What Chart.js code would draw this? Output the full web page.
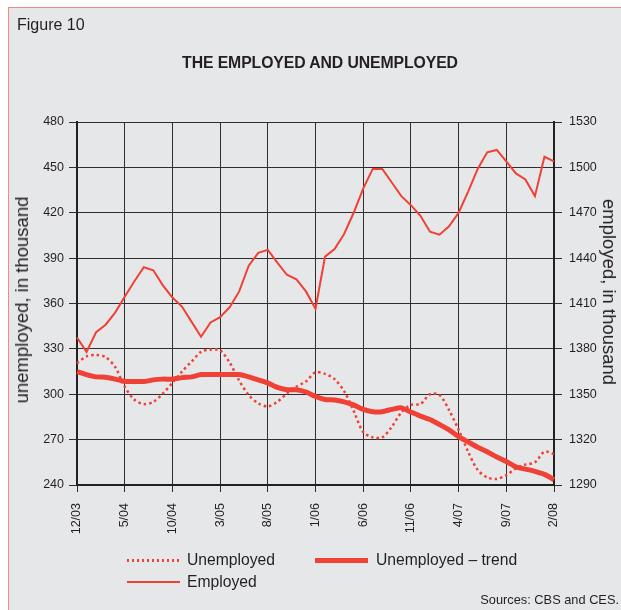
<!DOCTYPE html>
<html>
<head>
<meta charset="utf-8">
<script src="https://cdn.jsdelivr.net/npm/chart.js@4.4.1/dist/chart.umd.min.js"></script>
<style>
  html, body { margin: 0; padding: 0; background: #fff; }
  body { width: 621px; height: 610px; position: relative; overflow: hidden; font-family: "Liberation Sans", Arial, sans-serif; color: #231f20; }
  #frame { position: absolute; left: 8px; top: 7px; width: 640px; height: 640px; background: #e6e7e9; border: 1px solid #f08a84; }
  #chart { position: absolute; left: 0; top: 0; }
  .txt { position: absolute; white-space: nowrap; }
  #fig { left: 17px; top: 16px; font-size: 16px; }
  #title { left: 0; width: 640px; text-align: center; top: 54px; font-size: 15.8px; font-weight: bold; letter-spacing: -0.1px; }
  .ytitle { position: absolute; font-size: 18.5px; line-height: 20px; white-space: nowrap; }
  #yl { left: 22px; top: 300px; transform: translate(-50%, -50%) rotate(-90deg); }
  #yr { left: 609px; top: 292px; transform: translate(-50%, -50%) rotate(90deg); }
  .leg { position: absolute; font-size: 15.7px; line-height: 18px; }
  .line { position: absolute; }
  #src { right: 2px; top: 592px; font-size: 12.8px; }
</style>
</head>
<body>
<div id="frame"></div>
<canvas id="chart" width="621" height="610"></canvas>
<div class="txt" id="fig">Figure 10</div>
<div class="txt" id="title">THE EMPLOYED AND UNEMPLOYED</div>
<div class="ytitle" id="yl">unemployed, in thousand</div>
<div class="ytitle" id="yr">employed, in thousand</div>

<div class="line" style="left:127px; top:559px; width:52px; height:2.5px; background:repeating-linear-gradient(to right,#ef4136 0 2.5px,transparent 2.5px 5px);"></div>
<div class="leg txt" style="left:187px; top:551px;">Unemployed</div>
<div class="line" style="left:315px; top:557.5px; width:53px; height:5px; background:#ef4136;"></div>
<div class="leg txt" style="left:376px; top:551px;">Unemployed – trend</div>
<div class="line" style="left:127px; top:581px; width:53px; height:2px; background:#ef4136;"></div>
<div class="leg txt" style="left:187px; top:573px;">Employed</div>

<div class="txt" id="src">Sources: CBS and CES.</div>

<script>
// monthly data, 12/2003 - 2/2008 (thousands)
const months = ['12/03','1/04','2/04','3/04','4/04','5/04','6/04','7/04','8/04','9/04','10/04','11/04',
  '12/04','1/05','2/05','3/05','4/05','5/05','6/05','7/05','8/05','9/05','10/05','11/05',
  '12/05','1/06','2/06','3/06','4/06','5/06','6/06','7/06','8/06','9/06','10/06','11/06',
  '12/06','1/07','2/07','3/07','4/07','5/07','6/07','7/07','8/07','9/07','10/07','11/07',
  '12/07','1/08','2/08'];
const tickLabels = ['12/03','5/04','10/04','3/05','8/05','1/06','6/06','11/06','4/07','9/07','2/08'];

const unemployed = [320.5, 325, 326, 324.5, 318, 305, 296.5, 293.5, 295, 300.5,
  307.5, 315, 321.5, 328, 329.5, 329, 321, 309, 299.5, 294,
  292, 295, 300.5, 305, 308.5, 314.5, 313.5, 310, 302, 289,
  275, 271.5, 271.5, 278.5, 288, 293, 293.5, 300, 299.5, 289.5,
  276.5, 262, 250, 245, 244, 246.5, 251, 253.5, 255, 262, 260.5];
const unemployedTrend = [315, 313, 311.5, 311.3, 310, 308.5, 308.4, 308.4, 309.5, 310,
  310, 311, 311.5, 313, 313, 313, 313, 313, 311.5, 309.5,
  307.5, 304.5, 303, 303, 301.5, 298.5, 296.5, 296.2, 295, 293,
  290, 288.5, 288.5, 290, 291, 288.3, 285.5, 283.3, 280, 276.5,
  272, 268.5, 265, 262, 258.5, 255.5, 252, 250.5, 249, 247, 243.5];
const employed = [1387.5, 1378, 1391, 1396, 1404, 1414.5, 1424.5, 1434, 1432, 1422,
  1414, 1408, 1398, 1388, 1397.5, 1401, 1407.5, 1418, 1435, 1443.5,
  1445.5, 1437, 1429, 1426, 1418, 1406.5, 1441, 1446, 1456, 1470,
  1486, 1499, 1499, 1490, 1481, 1475, 1468, 1457.5, 1455.5, 1461,
  1470, 1484, 1499, 1510, 1511.5, 1504, 1496, 1492, 1481, 1507, 1504];

const leftTicks = [240, 270, 300, 330, 360, 390, 420, 450, 480];
const rightTicks = [1290, 1320, 1350, 1380, 1410, 1440, 1470, 1500, 1530];

const red = '#ef4136';
const gridColor = '#2e2e2e';
const tickFont = { family: 'Liberation Sans', size: 12.5 };

const ctx = document.getElementById('chart').getContext('2d');
new Chart(ctx, {
  type: 'line',
  data: {
    labels: months,
    datasets: [
      { label: 'Unemployed', data: unemployed, yAxisID: 'y', borderColor: red, borderWidth: 2.5,
        borderDash: [2.5, 3], pointRadius: 0, tension: 0.3 },
      { label: 'Unemployed – trend', data: unemployedTrend, yAxisID: 'y', borderColor: red, borderWidth: 5,
        pointRadius: 0, tension: 0.2 },
      { label: 'Employed', data: employed, yAxisID: 'y1', borderColor: red, borderWidth: 2,
        pointRadius: 0, tension: 0 }
    ]
  },
  options: {
    responsive: false,
    animation: false,
    layout: { padding: { top: 122, left: 0, right: 0, bottom: 0 } },
    plugins: { legend: { display: false }, tooltip: { enabled: false } },
    scales: {
      x: {
        grid: {
          color: c => tickLabels.includes(months[c.index]) ? gridColor : 'rgba(0,0,0,0)',
          tickLength: 7, lineWidth: 1
        },
        border: { color: '#222', width: 2 },
        ticks: {
          autoSkip: false, maxRotation: 90, minRotation: 90, padding: 11,
          color: '#231f20', font: tickFont,
          callback: (v, i) => tickLabels.includes(months[i]) ? months[i] : ''
        },
        afterFit: s => { s.height = 125; }
      },
      y: {
        position: 'left', min: 240, max: 480,
        afterBuildTicks: s => { s.ticks = leftTicks.map(v => ({ value: v })); },
        grid: { color: gridColor, tickLength: 8, lineWidth: 1 },
        border: { color: '#222', width: 2 },
        ticks: { color: '#231f20', font: tickFont, padding: 5, callback: v => String(v) },
        afterFit: s => { s.width = 77; }
      },
      y1: {
        position: 'right', min: 1290, max: 1530,
        afterBuildTicks: s => { s.ticks = rightTicks.map(v => ({ value: v })); },
        grid: { drawOnChartArea: false, color: gridColor, tickLength: 8 },
        border: { color: '#222', width: 2 },
        ticks: { color: '#231f20', font: tickFont, padding: 7, callback: v => String(v) },
        afterFit: s => { s.width = 67; }
      }
    }
  }
});
</script>
</body>
</html>
